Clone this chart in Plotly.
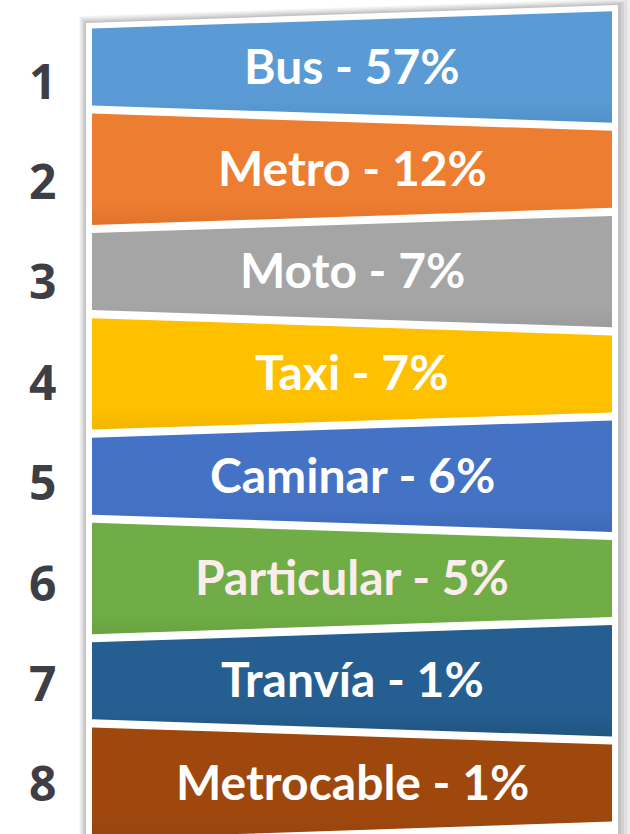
import plotly.graph_objects as go

# ---- data ----
ranks = [1, 2, 3, 4, 5, 6, 7, 8]
modes = ["Bus", "Metro", "Moto", "Taxi", "Caminar", "Particular", "Tranvía", "Metrocable"]
shares = [57, 12, 7, 7, 6, 5, 1, 1]

# ---- style ----
colors = ["#5B9BD5", "#ED7D31", "#A5A5A5", "#FFC000",
          "#4472C4", "#70AD47", "#255E91", "#9E480E"]
dark_edges = ["#5190C8", "#E0732B", "#9C9C9C", "#F2B600",
              "#3E69B8", "#69A342", "#21547F", "#97440D"]
text_colors = ["#FFFFFF", "#FFFFFF", "#FFFFFF", "#FFFFFF",
               "#FFFFFF", "#FBEDEC", "#FFFFFF", "#FFFFFF"]
W, H = 630, 834
PX_PER_RANK = 102.3
RANK1_PX = 67.0
Y_TOP = 1 - RANK1_PX / PX_PER_RANK
Y_BOT = 1 + (H - RANK1_PX) / PX_PER_RANK
BAND_X0, BAND_X1 = 92, 612
NARROW = 38.5 / PX_PER_RANK
WIDE = 55.7 / PX_PER_RANK

fig = go.Figure()

# card shadow & card (decoration)
top_l = ranks[0] - (RANK1_PX - 23) / PX_PER_RANK
top_r = ranks[0] - (RANK1_PX - 5) / PX_PER_RANK
bot = Y_BOT + 0.5
shapes = []
for off, col in [(14, "rgba(0,0,0,0.03)"), (12, "rgba(0,0,0,0.04)"), (9, "rgba(0,0,0,0.05)"),
                 (6, "rgba(0,0,0,0.06)"), (3, "rgba(0,0,0,0.07)")]:
    shapes.append(dict(type="path", xref="x", yref="y", layer="below",
                       path=f"M {86 - off/2},{top_l - off/PX_PER_RANK/2} L {618 + off},{top_r - off/PX_PER_RANK/2} "
                            f"L {618 + off},{bot} L {86 - off/2},{bot} Z",
                       fillcolor=col, line=dict(width=0)))
shapes.append(dict(type="path", xref="x", yref="y", layer="below",
                   path=f"M 86,{top_l} L 618,{top_r} L 618,{bot} L 86,{bot} Z",
                   fillcolor="#FFFFFF", line=dict(width=0)))

for i, r in enumerate(ranks):
    hl, hr = (NARROW, WIDE) if r % 2 == 1 else (WIDE, NARROW)
    fig.add_trace(go.Scatter(
        x=[BAND_X0, BAND_X1, BAND_X1, BAND_X0, BAND_X0],
        y=[r - hl, r - hr, r + hr, r + hl, r - hl],
        mode="lines", fill="toself", fillcolor=colors[i],
        fillgradient=dict(type="vertical",
                          colorscale=[[0, dark_edges[i]], [0.2, colors[i]], [1, colors[i]]]),
        line=dict(width=0, color=colors[i]), hoverinfo="skip", showlegend=False))

annotations = []
for i, r in enumerate(ranks):
    annotations.append(dict(
        x=(BAND_X0 + BAND_X1) / 2, y=r - 2 / PX_PER_RANK, xref="x", yref="y",
        text=f"<b>{modes[i]} - {shares[i]}%</b>", showarrow=False,
        font=dict(family="Lato", size=48, color=text_colors[i]),
        xanchor="center", yanchor="middle"))
    annotations.append(dict(
        x=42, y=r + (13 - (r - 1) * 1.9) / PX_PER_RANK, xref="x", yref="y",
        text=f"<b>{r}</b>", showarrow=False,
        font=dict(family="Open Sans", size=48, color="#3E3F46"),
        xanchor="center", yanchor="middle"))

fig.update_layout(
    width=W, height=H, margin=dict(l=0, r=0, t=0, b=0),
    paper_bgcolor="#FFFFFF", plot_bgcolor="#FFFFFF",
    xaxis=dict(range=[0, W], visible=False, fixedrange=True),
    yaxis=dict(range=[Y_BOT, Y_TOP], visible=False, fixedrange=True),
    shapes=shapes, annotations=annotations, showlegend=False)

fig.write_html("out.html", config={"displayModeBar": False},
               post_script="document.body.style.margin='0';document.body.style.overflow='hidden';")
